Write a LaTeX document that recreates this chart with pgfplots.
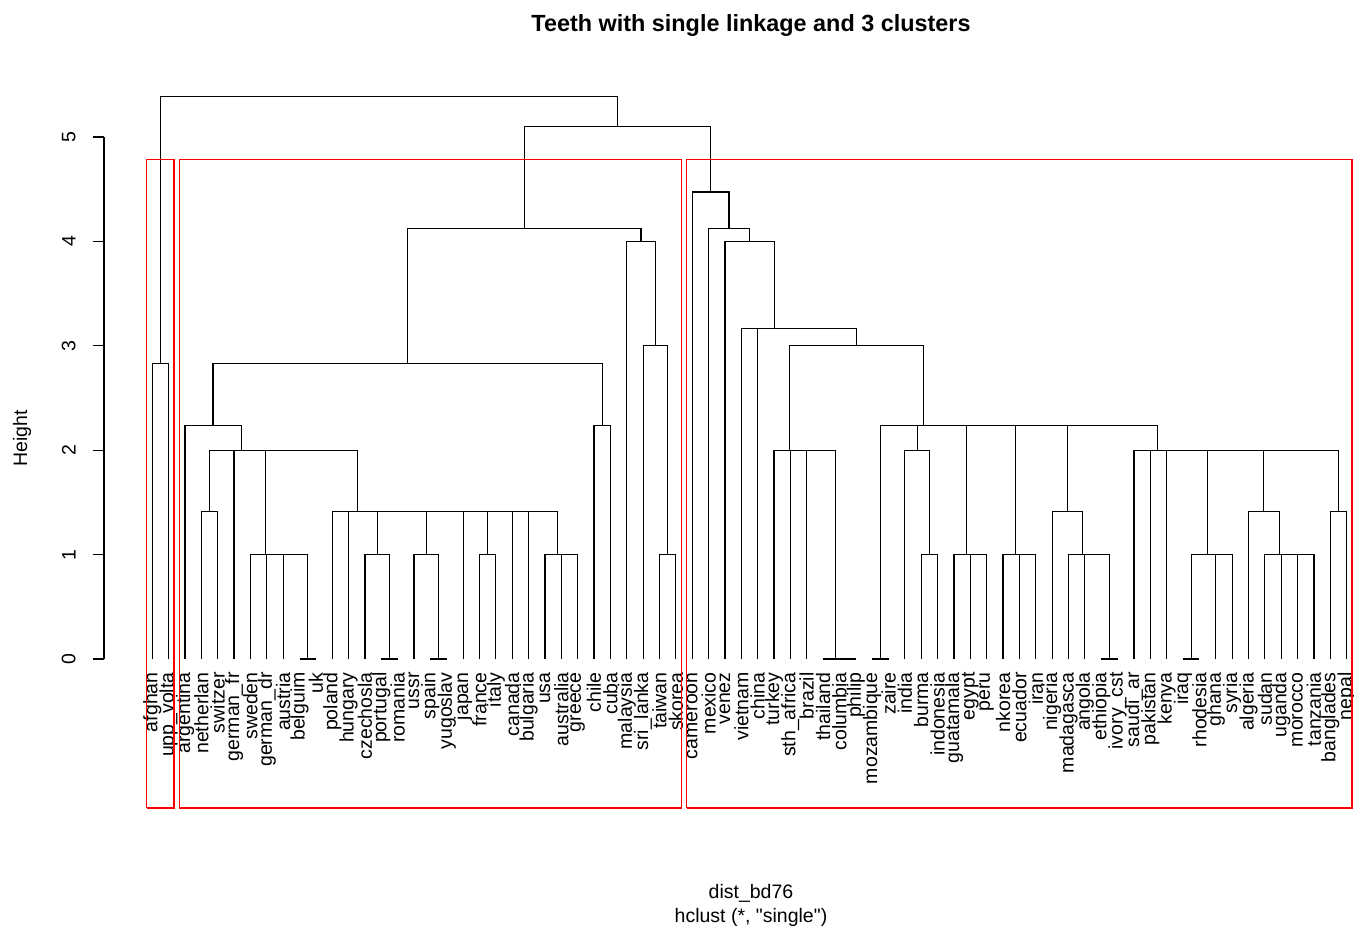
\documentclass[border=0pt]{standalone}
\usepackage{fontspec}
\setmainfont{Liberation Sans}
\usepackage{pgfplots}
\pgfplotsset{compat=1.18}
% merge: x_left, h_left, x_right, h_right, height
\newcommand{\mrg}[5]{\addplot[black, line width=0.6pt] coordinates {(#1,#2) (#1,#5) (#3,#5) (#3,#4)};}
\newcommand{\rbox}[3]{\addplot[red, line width=0.6pt] coordinates {(#1,-1.427) (#1,#3) (#2,#3) (#2,-1.427) (#1,-1.427)};}
\begin{document}
\fontsize{9.75}{12}\selectfont
\begin{tikzpicture}
\begin{axis}[
  scale only axis, width=625pt, height=369.3pt,
  xmin=-1.95, xmax=74.45, ymin=-1.427, ymax=5.647,
  clip=false,
  axis lines*=left, axis line style={draw=none},
  xtick={1,...,74},
  xticklabels={afghan,upp\_volta,argentina,netherlan,switzer,german\_fr,sweden,german\_dr,austria,belguim,uk,poland,hungary,czechosla,portugal,romania,ussr,spain,yugoslav,japan,france,italy,canada,bulgaria,usa,australia,greece,chile,cuba,malaysia,sri\_lanka,taiwan,skorea,cameroon,mexico,venez,vietnam,china,turkey,sth\_africa,brazil,thailand,columbia,philip,mozambique,zaire,india,burma,indonesia,guatamala,egypt,peru,nkorea,ecuador,iran,nigeria,madagasca,angola,ethiopia,ivory\_cst,saudi\_ar,pakistan,kenya,iraq,rhodesia,ghana,syria,algeria,sudan,uganda,morocco,tanzania,banglades,nepal},
  xtick style={draw=none},
  ytick={0,1,2,3,4,5}, ytick style={black, line width=0.6pt},
  tick align=outside, major tick length=5.5pt,
  /pgf/number format/assume math mode=true,
  yticklabel style={xshift=-8.5pt, rotate=90, anchor=south, inner sep=0pt},
  xticklabel style={yshift=73.5pt, rotate=90, anchor=east, inner sep=0pt},
  title={Teeth with single linkage and 3 clusters},
  title style={at={(axis description cs:0.5176,1)}, anchor=center, yshift=16pt, inner sep=0pt, font=\bfseries\fontsize{11.7}{14}\selectfont},
  xlabel={dist\_bd76\\hclust (*, \textquotedbl single\textquotedbl)},
  xlabel style={at={(axis description cs:0.5176,0)}, anchor=north, yshift=-38pt, inner sep=0pt, align=center, font=\fontsize{9.75}{12}\selectfont},
  every axis y label/.style={at={(axis description cs:-0.0656,0.5)}, rotate=90, anchor=center},
  ylabel={Height},
]
% y axis line
\addplot[black, line width=0.6pt] coordinates {(-1.95,0) (-1.95,5)};
% cluster A
\mrg{1}{0}{2}{0}{2.82843}
% cluster B
\mrg{4}{0}{5}{0}{1.41421}
\mrg{10}{0}{11}{0}{0}
\mrg{9}{0}{10.5}{0}{1}
\mrg{8}{0}{9.75}{1}{1}
\mrg{7}{0}{8.875}{1}{1}
\mrg{15}{0}{16}{0}{0}
\mrg{14}{0}{15.5}{0}{1}
\mrg{18}{0}{19}{0}{0}
\mrg{17}{0}{18.5}{0}{1}
\mrg{21}{0}{22}{0}{1}
\mrg{26}{0}{27}{0}{1}
\mrg{25}{0}{26.5}{1}{1}
\mrg{24}{0}{25.75}{1}{1.41421}
\mrg{23}{0}{24.875}{1.41421}{1.41421}
\mrg{21.5}{1}{23.9375}{1.41421}{1.41421}
\mrg{20}{0}{22.71875}{1.41421}{1.41421}
\mrg{17.75}{1}{21.359375}{1.41421}{1.41421}
\mrg{14.75}{1}{19.5546875}{1.41421}{1.41421}
\mrg{13}{0}{17.15234}{1.41421}{1.41421}
\mrg{12}{0}{15.07617}{1.41421}{1.41421}
\mrg{7.9375}{1}{13.53809}{1.41421}{2}
\mrg{6}{0}{10.73779}{2}{2}
\mrg{4.5}{1.41421}{8.36890}{2}{2}
\mrg{3}{0}{6.43445}{2}{2.23607}
\mrg{28}{0}{29}{0}{2.23607}
\mrg{4.71722}{2.23607}{28.5}{2.23607}{2.82843}
\mrg{32}{0}{33}{0}{1}
\mrg{31}{0}{32.5}{1}{3}
\mrg{30}{0}{31.75}{3}{4}
\mrg{16.60861}{2.82843}{30.875}{4}{4.12311}
% cluster C
\mrg{43}{0}{44}{0}{0}
\mrg{42}{0}{43.5}{0}{0}
\mrg{41}{0}{42.75}{0}{2}
\mrg{40}{0}{41.875}{2}{2}
\mrg{39}{0}{40.9375}{2}{2}
\mrg{45}{0}{46}{0}{0}
\mrg{48}{0}{49}{0}{1}
\mrg{47}{0}{48.5}{1}{2}
\mrg{51}{0}{52}{0}{1}
\mrg{50}{0}{51.5}{1}{1}
\mrg{54}{0}{55}{0}{1}
\mrg{53}{0}{54.5}{1}{1}
\mrg{59}{0}{60}{0}{0}
\mrg{58}{0}{59.5}{0}{1}
\mrg{57}{0}{58.75}{1}{1}
\mrg{56}{0}{57.875}{1}{1.41421}
\mrg{64}{0}{65}{0}{0}
\mrg{66}{0}{67}{0}{1}
\mrg{64.5}{0}{66.5}{1}{1}
\mrg{71}{0}{72}{0}{1}
\mrg{70}{0}{71.5}{1}{1}
\mrg{69}{0}{70.75}{1}{1}
\mrg{68}{0}{69.875}{1}{1.41421}
\mrg{73}{0}{74}{0}{1.41421}
\mrg{68.9375}{1.41421}{73.5}{1.41421}{2}
\mrg{65.5}{1}{71.21875}{2}{2}
\mrg{63}{0}{68.359375}{2}{2}
\mrg{62}{0}{65.6796875}{2}{2}
\mrg{61}{0}{63.83984}{2}{2}
\mrg{56.9375}{1.41421}{62.41992}{2}{2.23607}
\mrg{53.75}{1}{59.67871}{2.23607}{2.23607}
\mrg{50.75}{1}{56.71436}{2.23607}{2.23607}
\mrg{47.75}{2}{53.73218}{2.23607}{2.23607}
\mrg{45.5}{0}{50.74109}{2.23607}{2.23607}
\mrg{39.96875}{2}{48.12054}{2.23607}{3}
\mrg{38}{0}{44.04465}{3}{3.16228}
\mrg{37}{0}{41.02232}{3.16228}{3.16228}
\mrg{36}{0}{39.01116}{3.16228}{4}
\mrg{35}{0}{37.50558}{4}{4.12311}
\mrg{34}{0}{36.25279}{4.12311}{4.47214}
% top merges
\mrg{23.74180}{4.12311}{35.12640}{4.47214}{5.09902}
\mrg{1.5}{2.82843}{29.43410}{5.09902}{5.38516}
% cluster rectangles
\rbox{0.66}{2.33}{4.7856}
\rbox{2.66}{33.33}{4.7856}
\rbox{33.66}{74.33}{4.7856}
\end{axis}
\pgfresetboundingbox
\path[use as bounding box] (-52pt,-60pt) rectangle (625pt,404pt);
\end{tikzpicture}
\end{document}
